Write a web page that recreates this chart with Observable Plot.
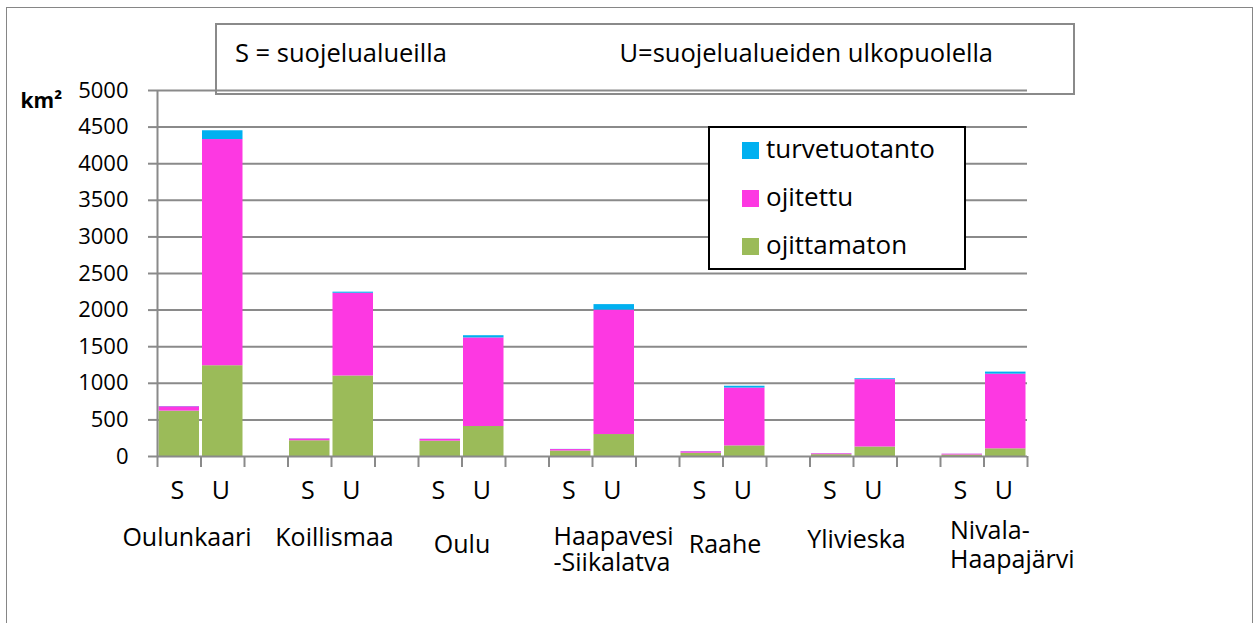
<!DOCTYPE html>
<html>
<head>
<meta charset="utf-8">
<script src="https://cdn.jsdelivr.net/npm/d3@7"></script>
<script src="https://cdn.jsdelivr.net/npm/@observablehq/plot@0.6"></script>
<style>
  html, body { margin: 0; padding: 0; background: #fff; }
  #wrap { position: relative; width: 1253px; height: 623px; font-family: "Open Sans", sans-serif; overflow: hidden; }
  #wrap svg.plot { position: absolute; left: 0; top: 0; }
  .abs { position: absolute; white-space: nowrap; line-height: 1.362; }
  #outer { position: absolute; left: 6px; top: 7px; width: 1247px; height: 617px; box-sizing: border-box; border: 1px solid #868686; }
  #header { position: absolute; left: 215px; top: 23px; width: 860px; height: 72px; box-sizing: border-box; border: 2px solid #8a8a8a; }
  #legend { position: absolute; left: 708px; top: 126px; width: 258px; height: 144px; box-sizing: border-box; border: 2px solid #000; background: #fff; }
  .sw { position: absolute; width: 17px; height: 17px; }
</style>
</head>
<body>
<div id="wrap">
  <div id="outer"></div>
</div>
<script>
// ---- data (km²) ----
const regions = ["Oulunkaari", "Koillismaa", "Oulu", "Haapavesi\n-Siikalatva", "Raahe", "Ylivieska", "Nivala-\nHaapajärvi"];
const types = ["ojittamaton", "ojitettu", "turvetuotanto"];
const legendOrder = ["turvetuotanto", "ojitettu", "ojittamaton"];
const colors = ["#9bbb59", "#fd38e2", "#00b0f0"];
const groupTicks = ["S", "U"];

// S = suojelualueilla
const sOjittamaton = [620, 215, 210, 75, 45, 25, 20];
const sOjitettu    = [60, 25, 25, 20, 20, 12, 12];
const sTurve       = [3, 2, 2, 2, 2, 1, 1];
// U = suojelualueiden ulkopuolella
const uOjittamaton = [1240, 1100, 410, 300, 145, 130, 105];
const uOjitettu    = [3090, 1130, 1210, 1700, 790, 920, 1020];
const uTurve       = [120, 15, 30, 75, 25, 12, 28];

const yTicks = d3.range(0, 5001, 500);

// ---- layout of region labels (offsets relative to slot boundary) ----
const labelLayout = [
  {dx: -14, dy: 89, anchor: "middle", lh: 1},
  {dx: 3, dy: 89, anchor: "middle", lh: 1},
  {dx: 0, dy: 96, anchor: "middle", lh: 1},
  {dx: -39, dy: 114, anchor: "start", lh: 1.02},
  {dx: 2, dy: 96, anchor: "middle", lh: 1},
  {dx: 3, dy: 91, anchor: "middle", lh: 1},
  {dx: -34, dy: 111, anchor: "start", lh: 1.16}
];

// ---- build table ----
const rows = [];
regions.forEach((r, i) => {
  const sx = 3 * i, ux = 3 * i + 1;
  const sv = [sOjittamaton[i], sOjitettu[i], sTurve[i]];
  const uv = [uOjittamaton[i], uOjitettu[i], uTurve[i]];
  types.forEach((t, k) => {
    rows.push({region: r, group: "S", x1: sx, x2: sx + 1, type: t, value: sv[k]});
    rows.push({region: r, group: "U", x1: ux, x2: ux + 1, type: t, value: uv[k]});
  });
});
const suLabels = [];
regions.forEach((r, i) => groupTicks.forEach((g, k) => suLabels.push({slot: 3 * i + k, text: g})));

const grid = "#8a8a8a";

const chart = Plot.plot({
  width: 1253,
  height: 623,
  marginLeft: 157,
  marginRight: 226,
  marginTop: 90,
  marginBottom: 167,
  x: {type: "linear", domain: [0, 20], axis: null},
  y: {domain: [0, 5000], axis: null, label: null},
  color: {domain: types, range: colors},
  style: {fontFamily: "Open Sans", background: "transparent", color: "#000", overflow: "visible"},
  marks: [
    Plot.ruleY(yTicks.filter(d => d > 0), {stroke: grid, strokeWidth: 2}),
    Plot.rectY(rows, Plot.stackY({x1: "x1", x2: "x2", y: "value", z: "type", fill: "type", order: types, insetLeft: 1.5, insetRight: 1.5})),
    Plot.ruleX([0], {y1: 0, y2: 5000, stroke: grid, strokeWidth: 2}),
    Plot.ruleY([0], {stroke: grid, strokeWidth: 2}),
    Plot.axisX({ticks: d3.range(0, 21), tickSize: 11, tickFormat: () => "", label: null, stroke: grid, strokeWidth: 2}),
    Plot.axisY({ticks: yTicks, tickSize: 9, tickPadding: 20, fontSize: 22, label: null, stroke: grid, strokeWidth: 2, tickFormat: d => String(d)}),
    Plot.text(suLabels, {x: d => d.slot + 0.5, text: "text", frameAnchor: "bottom", lineAnchor: "bottom", dy: 42, dx: -2, fontSize: 25}),
    ...regions.map((r, i) => Plot.text([r], {
      x: 3 * i + 1, text: d => d, frameAnchor: "bottom", lineAnchor: "bottom",
      dx: labelLayout[i].dx, dy: labelLayout[i].dy, textAnchor: labelLayout[i].anchor,
      lineHeight: labelLayout[i].lh, fontSize: 25
    })),
    Plot.text(["km²"], {text: d => d, frameAnchor: "top-left", lineAnchor: "bottom", textAnchor: "start", dx: -137, dy: 17, fontSize: 21, fontWeight: "bold"})
  ]
});
chart.classList.add("plot");

const wrap = document.getElementById("wrap");
wrap.appendChild(chart);

// header box
const header = document.createElement("div");
header.id = "header";
wrap.appendChild(header);
function addText(txt, opts) {
  const d = document.createElement("div");
  d.className = "abs";
  d.textContent = txt;
  d.style.fontSize = opts.fs + "px";
  d.style.top = (opts.baseline - 1.069 * opts.fs) + "px";
  if (opts.left != null) d.style.left = opts.left + "px";
  if (opts.right != null) d.style.right = (1253 - opts.right) + "px";
  wrap.appendChild(d);
  return d;
}
addText("S = suojelualueilla", {fs: 25.5, baseline: 62, left: 235});
addText("U=suojelualueiden ulkopuolella", {fs: 25.5, baseline: 62, right: 993});

// legend
const legend = document.createElement("div");
legend.id = "legend";
wrap.appendChild(legend);
legendOrder.forEach((t, k) => {
  const baseline = 159 + 48 * k;
  const sw = document.createElement("div");
  sw.className = "sw";
  sw.style.left = "742px";
  sw.style.top = (baseline - 17) + "px";
  sw.style.background = colors[types.indexOf(t)];
  wrap.appendChild(sw);
  addText(t, {fs: 26, baseline, left: 766});
});
</script>
</body>
</html>
